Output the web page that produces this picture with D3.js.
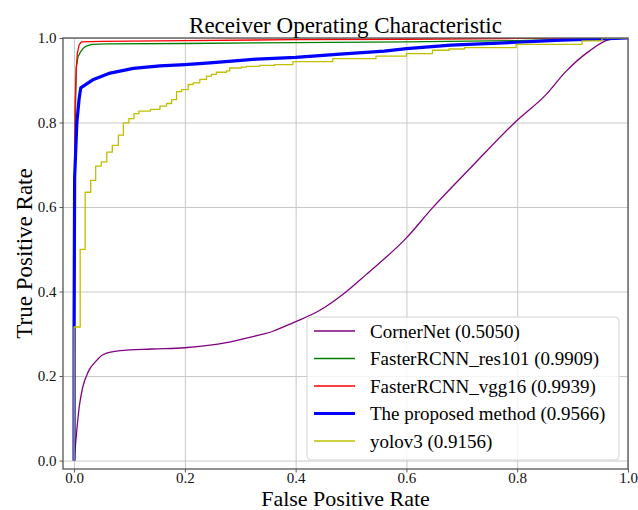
<!DOCTYPE html>
<html>
<head>
<meta charset="utf-8">
<script src="https://cdn.jsdelivr.net/npm/d3@7"></script>
<style>
  body { margin: 0; background: #fff; }
  svg { font-family: "Liberation Serif", "Times New Roman", serif; }
</style>
</head>
<body>
<div id="roc"></div>
<script>
// values
var tickValues = [0, 0.2, 0.4, 0.6, 0.8, 1.0];

var cornerFpr = [0, 0.005, 0.0095, 0.015, 0.026, 0.04, 0.053, 0.083, 0.14, 0.2, 0.275, 0.311, 0.359, 0.395, 0.443, 0.485, 0.527, 0.6, 0.647, 0.719, 0.798, 0.852, 0.888, 0.93, 0.966, 0.996, 1.0];
var cornerTpr = [0, 0.073, 0.129, 0.17, 0.211, 0.236, 0.251, 0.260, 0.264, 0.267, 0.279, 0.290, 0.306, 0.326, 0.355, 0.393, 0.440, 0.527, 0.598, 0.697, 0.803, 0.866, 0.921, 0.969, 0.996, 1.0, 1.0];

var resFpr = [0, 0.001, 0.002, 0.004, 0.007, 0.011, 0.016, 0.022, 0.032, 0.06, 0.2, 0.4, 0.6, 0.8, 0.9, 1];
var resTpr = [0, 0.4, 0.8, 0.93, 0.955, 0.966, 0.975, 0.981, 0.985, 0.986, 0.987, 0.989, 0.991, 0.994, 0.997, 1];

var vggFpr = [0, 0.001, 0.002, 0.004, 0.006, 0.009, 0.013, 0.05, 0.2, 0.4, 0.6, 0.8, 1];
var vggTpr = [0, 0.5, 0.85, 0.93, 0.965, 0.983, 0.991, 0.992, 0.994, 0.996, 0.997, 0.999, 1];

var oursFpr = [0, 0, 0.001, 0.005, 0.009, 0.012, 0.035, 0.065, 0.107, 0.155, 0.2, 0.245, 0.29, 0.33, 0.4, 0.48, 0.56, 0.6, 0.68, 0.8, 0.88, 0.95, 1];
var oursTpr = [0, 0.32, 0.67, 0.8, 0.855, 0.882, 0.902, 0.917, 0.928, 0.934, 0.937, 0.941, 0.946, 0.95, 0.954, 0.962, 0.969, 0.975, 0.983, 0.99, 0.995, 0.998, 1];

// yolov3 is a staircase: each point is where the curve jumps up
var yoloFpr = [0, 0, 0.011, 0.020, 0.030, 0.039, 0.049, 0.059, 0.069, 0.080, 0.089, 0.099, 0.108, 0.117, 0.138, 0.155, 0.167, 0.176, 0.185, 0.194, 0.206, 0.215, 0.227, 0.239, 0.248, 0.257, 0.275, 0.281, 0.302, 0.311, 0.335, 0.362, 0.395, 0.467, 0.545, 0.600, 0.647, 0.677, 0.705, 0.798, 0.917, 0.953, 1.0];
var yoloTpr = [0, 0.316, 0.500, 0.635, 0.663, 0.697, 0.707, 0.730, 0.746, 0.770, 0.799, 0.809, 0.821, 0.827, 0.831, 0.839, 0.845, 0.854, 0.873, 0.878, 0.890, 0.894, 0.902, 0.910, 0.914, 0.919, 0.922, 0.929, 0.931, 0.933, 0.935, 0.937, 0.944, 0.951, 0.957, 0.963, 0.971, 0.974, 0.977, 0.985, 0.993, 1.0, 1.0];

var labels = ["CornerNet (0.5050)", "FasterRCNN_res101 (0.9909)", "FasterRCNN_vgg16 (0.9939)", "The proposed method (0.9566)", "yolov3 (0.9156)"];
var colors = ["#800080", "#008000", "#ff0000", "#0000ff", "#bfbf00"];

var series = [
	{fpr: cornerFpr, tpr: cornerTpr, curve: d3.curveMonotoneX, width: 1.3},
	{fpr: resFpr, tpr: resTpr, curve: d3.curveLinear, width: 1.3},
	{fpr: vggFpr, tpr: vggTpr, curve: d3.curveLinear, width: 1.3},
	{fpr: oursFpr, tpr: oursTpr, curve: d3.curveLinear, width: 3.2},
	{fpr: yoloFpr, tpr: yoloTpr, curve: d3.curveStepAfter, width: 1.3}
];

var W = 638, H = 510;
var plot = {left: 63, right: 628, top: 38, bottom: 469};

var svg = d3.select("#roc").append("svg")
	.attr("width", W)
	.attr("height", H);

var x = d3.scaleLinear().domain([-0.02, 1.0]).range([plot.left, plot.right]);
var y = d3.scaleLinear().domain([-0.02, 1.0]).range([plot.bottom, plot.top]);

// grid
svg.append("g")
	.attr("transform", "translate(0," + plot.bottom + ")")
	.call(d3.axisBottom(x).tickValues(tickValues).tickSize(-(plot.bottom - plot.top)).tickFormat(""))
	.call(function(g) {
		g.select(".domain").remove();
		g.selectAll("line").attr("stroke", "#c8c8c8").attr("stroke-width", 1);
	});
svg.append("g")
	.attr("transform", "translate(" + plot.left + ",0)")
	.call(d3.axisLeft(y).tickValues(tickValues).tickSize(-(plot.right - plot.left)).tickFormat(""))
	.call(function(g) {
		g.select(".domain").remove();
		g.selectAll("line").attr("stroke", "#c8c8c8").attr("stroke-width", 1);
	});

svg.append("clipPath").attr("id", "clip")
	.append("rect")
	.attr("x", plot.left).attr("y", plot.top)
	.attr("width", plot.right - plot.left).attr("height", plot.bottom - plot.top);

var curves = svg.append("g").attr("clip-path", "url(#clip)");

series.forEach(function(s, i) {
	var pts = s.fpr.map(function(f, j) { return [f, s.tpr[j]]; });
	var line = d3.line()
		.x(function(d) { return x(d[0]); })
		.y(function(d) { return y(d[1]); })
		.curve(s.curve);
	curves.append("path")
		.datum(pts)
		.attr("d", line)
		.attr("fill", "none")
		.attr("stroke", colors[i])
		.attr("stroke-width", s.width)
		.attr("stroke-linejoin", "round");
});

// spines
svg.append("rect")
	.attr("x", plot.left).attr("y", plot.top)
	.attr("width", plot.right - plot.left).attr("height", plot.bottom - plot.top)
	.attr("fill", "none")
	.attr("stroke", "#555")
	.attr("stroke-width", 1.3);

// axes
var xAxis = svg.append("g")
	.attr("transform", "translate(0," + plot.bottom + ")")
	.call(d3.axisBottom(x).tickValues(tickValues).tickFormat(d3.format(".1f")).tickSize(3.5).tickSizeOuter(0).tickPadding(0));
var yAxis = svg.append("g")
	.attr("transform", "translate(" + plot.left + ",0)")
	.call(d3.axisLeft(y).tickValues(tickValues).tickFormat(d3.format(".1f")).tickSize(3.5).tickSizeOuter(0).tickPadding(3));

[xAxis, yAxis].forEach(function(g) {
	g.select(".domain").remove();
	g.selectAll("line").attr("stroke", "#555");
	g.selectAll("text")
		.attr("fill", "#111")
		.style("font-family", "Liberation Serif, serif")
		.style("font-size", "15px");
});

svg.append("text")
	.attr("x", (plot.left + plot.right) / 2)
	.attr("y", 33)
	.attr("text-anchor", "middle")
	.style("font-size", "23px")
	.text("Receiver Operating Characteristic");

svg.append("text")
	.attr("x", (plot.left + plot.right) / 2)
	.attr("y", 506)
	.attr("text-anchor", "middle")
	.style("font-size", "22px")
	.text("False Positive Rate");

svg.append("text")
	.attr("transform", "translate(32," + (plot.top + plot.bottom) / 2 + ") rotate(-90)")
	.attr("text-anchor", "middle")
	.style("font-size", "23px")
	.text("True Positive Rate");

// legend
var legend = svg.append("g");
legend.append("rect")
	.attr("x", 307).attr("y", 317)
	.attr("width", 312).attr("height", 143)
	.attr("rx", 4)
	.attr("fill", "#fff")
	.attr("fill-opacity", 0.8)
	.attr("stroke", "#d5d5d5");

var entry = legend.selectAll(".entry")
	.data(labels)
	.enter().append("g")
	.attr("class", "entry")
	.attr("transform", function(d, i) { return "translate(0," + (331 + i * 27.5) + ")"; });

entry.append("line")
	.attr("x1", 314).attr("x2", 355)
	.attr("stroke", function(d, i) { return colors[i]; })
	.attr("stroke-width", function(d, i) { return series[i].width; });

entry.append("text")
	.attr("x", 370)
	.attr("dy", "0.35em")
	.style("font-size", "19px")
	.text(function(d) { return d; });
</script>
</body>
</html>
